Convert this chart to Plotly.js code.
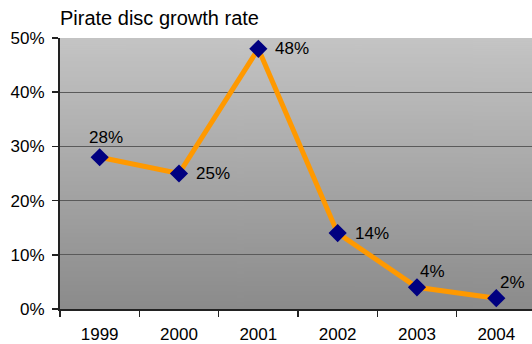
<!DOCTYPE html>
<html>
<head>
<meta charset="utf-8">
<script src="https://cdn.plot.ly/plotly-3.0.1.min.js"></script>
<style>
  html, body { margin: 0; padding: 0; background: #fff; overflow: hidden; }
  #chart { width: 532px; height: 344px; }
</style>
</head>
<body>
<div id="chart"></div>
<script>
// Yearly growth of pirate discs
const years = ['1999', '2000', '2001', '2002', '2003', '2004'];
const growth = [0.28, 0.25, 0.48, 0.14, 0.04, 0.02];
// where each value label sits relative to its point
const labelSide = ['above', 'right', 'right', 'right', 'above', 'above'];
const yTicks = [0, 0.1, 0.2, 0.3, 0.4, 0.5];
const yTickLabels = ['0%', '10%', '20%', '30%', '40%', '50%'];

const FONT = 'Liberation Sans, Arial, sans-serif';

// vertical grey gradient for the plotting area
function gradientURL() {
  const c = document.createElement('canvas');
  c.width = 4; c.height = 272;
  const g = c.getContext('2d');
  const lg = g.createLinearGradient(0, 0, 0, c.height);
  lg.addColorStop(0, '#c4c4c4');
  lg.addColorStop(1, '#8b8b8b');
  g.fillStyle = lg;
  g.fillRect(0, 0, c.width, c.height);
  return c.toDataURL();
}

const pct = v => Math.round(v * 100) + '%';

// value labels, positioned by category index
const annotations = years.map((yr, i) => {
  const above = labelSide[i] === 'above';
  return {
    x: i, y: growth[i], xref: 'x', yref: 'y',
    text: pct(growth[i]), showarrow: false,
    xanchor: above ? 'center' : 'left',
    yanchor: 'middle',
    xshift: above ? (i === 0 ? 6 : 16) : 15,
    yshift: above ? (i === 0 ? 20 : 16) : 0,
    font: { family: FONT, size: 17, color: '#000' }
  };
});

const trace = {
  type: 'scatter',
  mode: 'lines+markers',
  x: years,
  y: growth,
  line: { color: '#ff9900', width: 5 },
  marker: { symbol: 'diamond', color: '#000080', size: 14, line: { width: 0 } },
  hoverinfo: 'skip',
  cliponaxis: false
};

const layout = {
  width: 532, height: 344,
  margin: { l: 60, r: 0, t: 38, b: 35, pad: 0 },
  paper_bgcolor: '#ffffff',
  plot_bgcolor: 'rgba(0,0,0,0)',
  showlegend: false,
  title: {
    text: 'Pirate disc growth rate',
    font: { family: FONT, size: 20, color: '#000' },
    x: 60 / 532, xref: 'container', xanchor: 'left',
    y: 1 - 25 / 344, yref: 'container', yanchor: 'bottom'
  },
  xaxis: {
    type: 'category',
    range: [-0.5, 5.45],
    tickson: 'boundaries',
    ticks: 'outside', ticklen: 6, tickwidth: 1.5, tickcolor: '#222',
    ticklabelstandoff: 9,
    showline: true, linecolor: '#222', linewidth: 2,
    showgrid: false, zeroline: false,
    tickfont: { family: FONT, size: 17, color: '#000' },
    fixedrange: true
  },
  yaxis: {
    range: [0, 0.5],
    tickvals: yTicks, ticktext: yTickLabels,
    ticks: 'outside', ticklen: 6, tickwidth: 1.5, tickcolor: '#222',
    ticklabelstandoff: 4,
    showline: true, linecolor: '#222', linewidth: 2,
    showgrid: true, gridcolor: '#5a5a5a', gridwidth: 1,
    zeroline: false,
    tickfont: { family: FONT, size: 17, color: '#000' },
    fixedrange: true
  },
  images: [{
    source: gradientURL(),
    xref: 'paper', yref: 'paper',
    x: 0, y: 1, sizex: 1, sizey: 1,
    xanchor: 'left', yanchor: 'top',
    sizing: 'stretch', layer: 'below'
  }],
  annotations: annotations
};

Plotly.newPlot('chart', [trace], layout, { displayModeBar: false, staticPlot: true });
</script>
</body>
</html>
